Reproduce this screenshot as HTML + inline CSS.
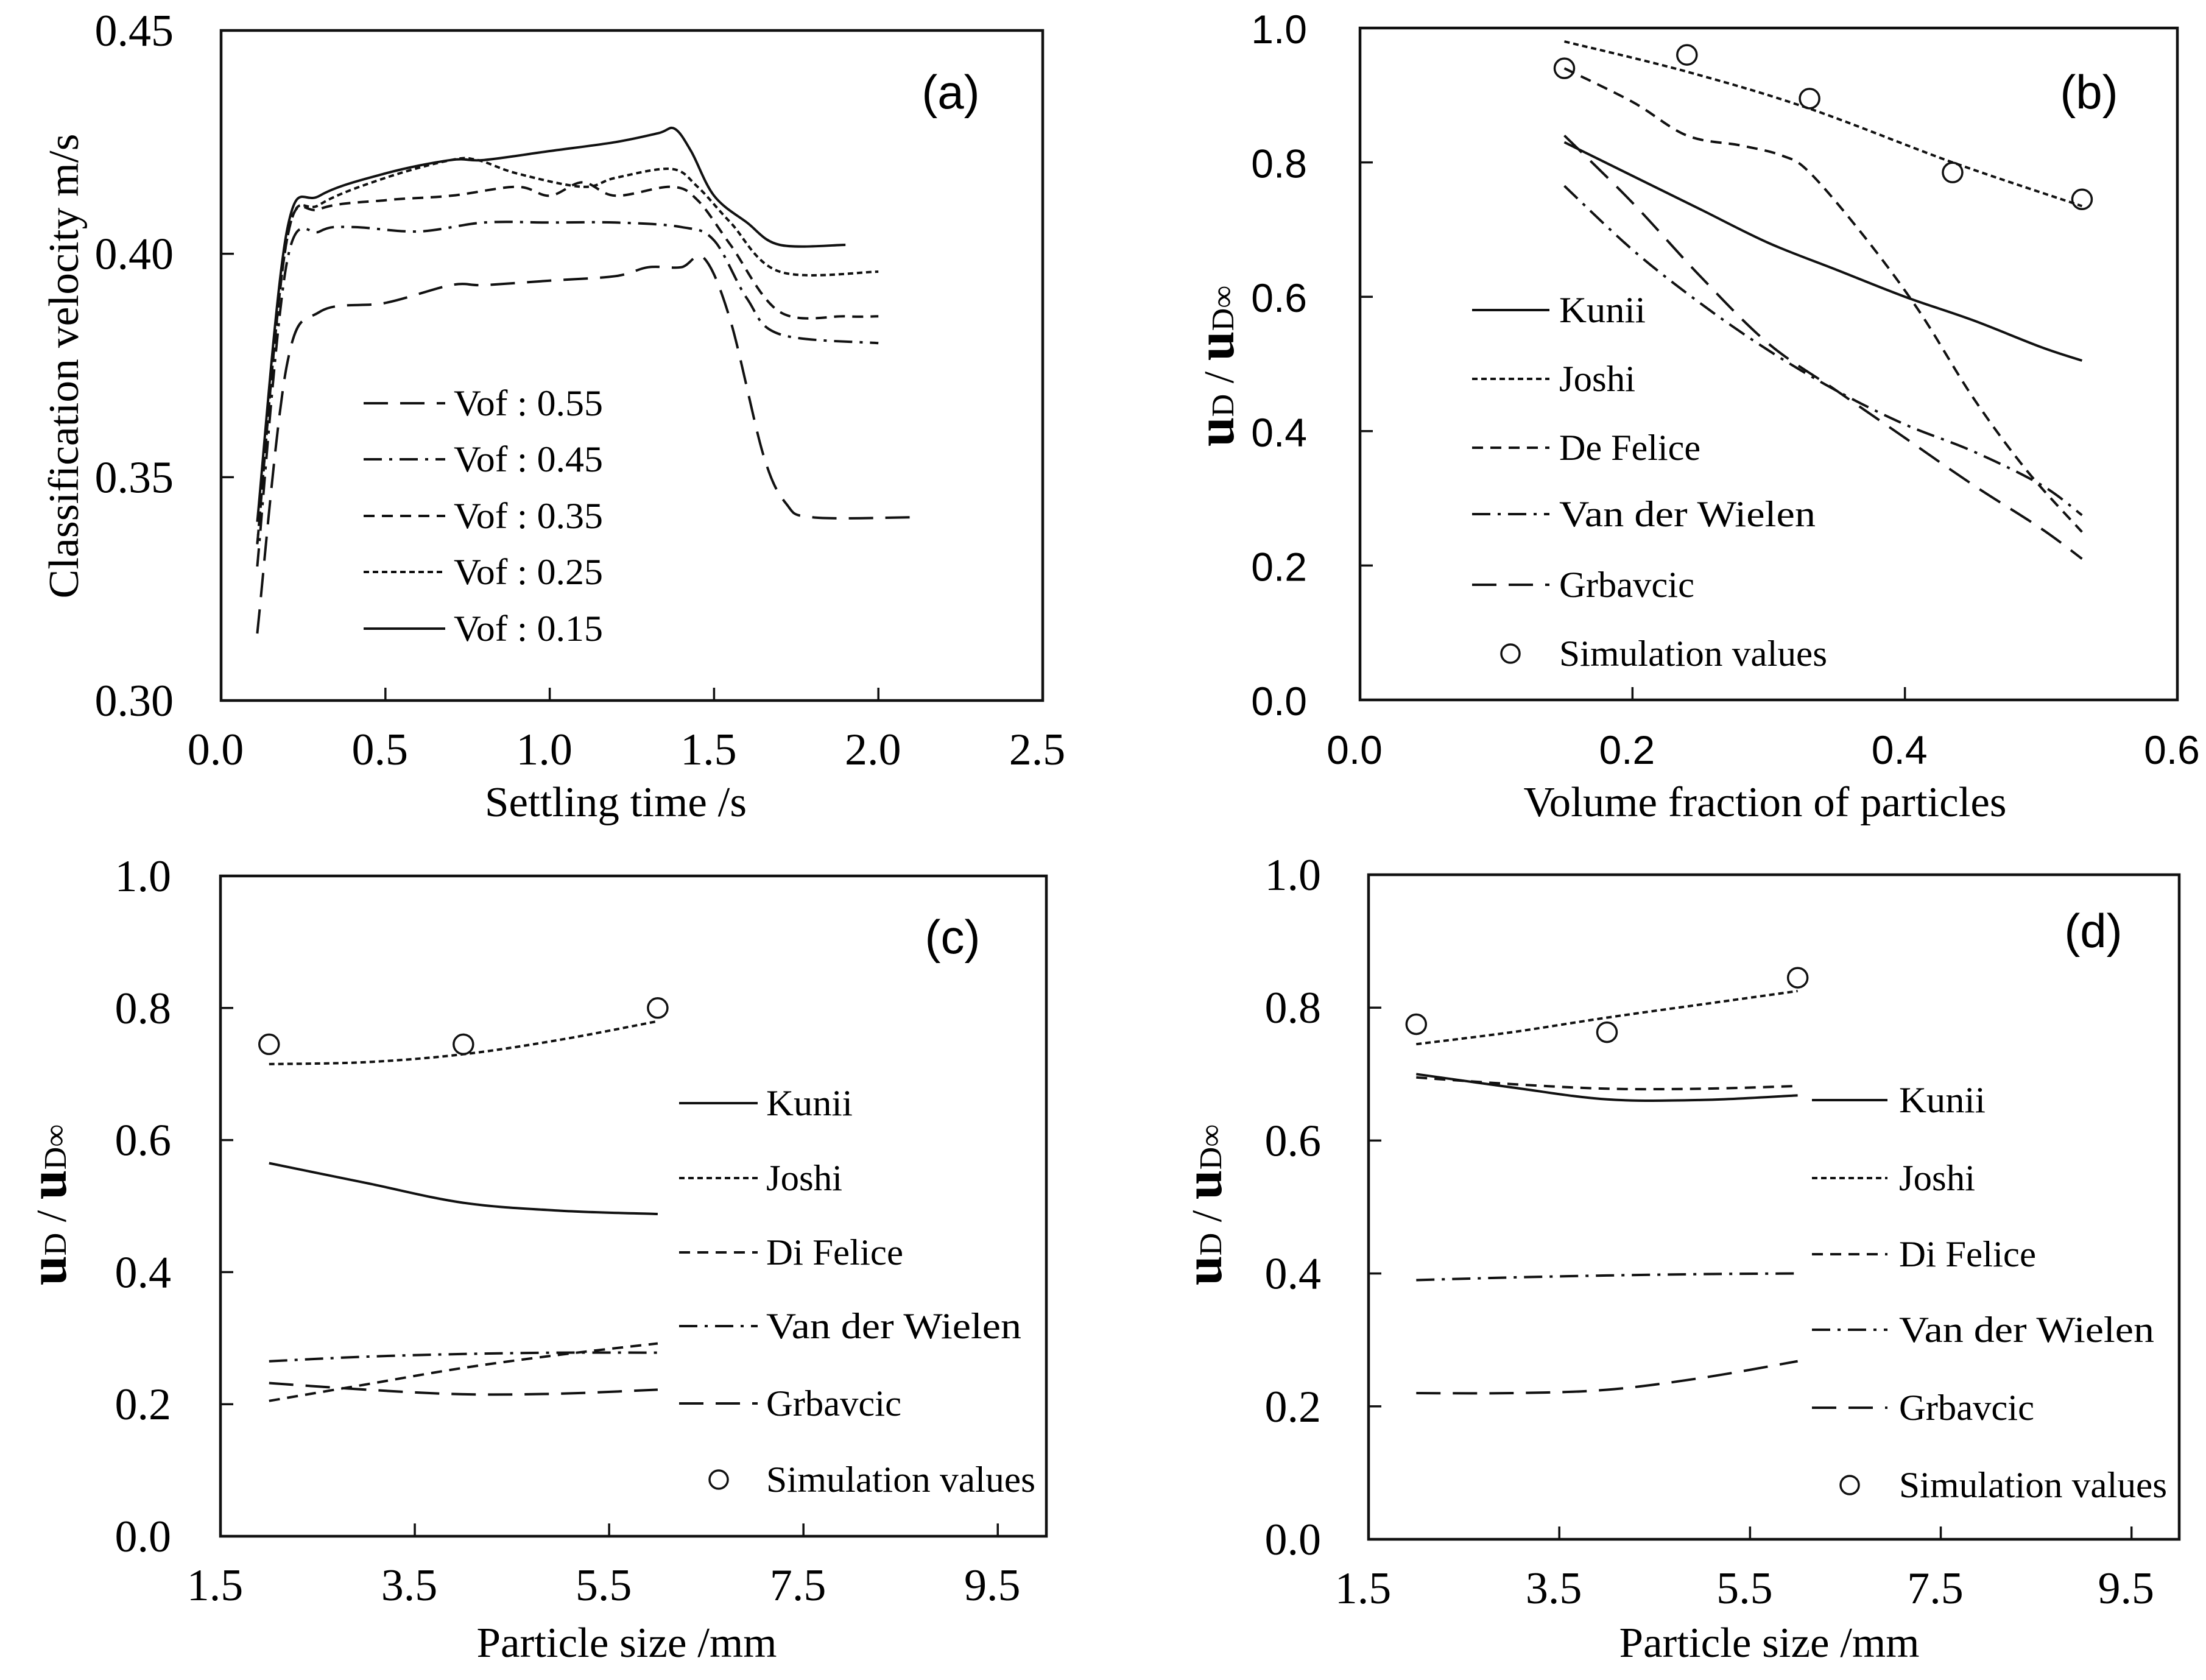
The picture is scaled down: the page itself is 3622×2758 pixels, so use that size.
<!DOCTYPE html>
<html><head><meta charset="utf-8"><style>
html,body{margin:0;padding:0;background:#fff}
svg{display:block}
.serif{font-family:"Liberation Serif",serif}
.sans{font-family:"Liberation Sans",sans-serif}
</style></head><body>
<svg id="fig" xmlns="http://www.w3.org/2000/svg" width="3622" height="2758" viewBox="0 0 3622 2758"></svg>
<script>
// ---------- Panel (a) data ----------
const aT15=[0.11,0.2,0.3,0.5,0.7,0.8,1.0,1.2,1.33,1.38,1.43,1.5,1.6,1.7,1.9];
const aV15=[0.340,0.405,0.413,0.418,0.421,0.421,0.423,0.425,0.427,0.428,0.423,0.413,0.407,0.402,0.402];
const aT25=[0.11,0.2,0.3,0.5,0.7,0.78,0.9,1.1,1.2,1.37,1.45,1.55,1.7,2.0];
const aV25=[0.335,0.403,0.411,0.417,0.421,0.421,0.418,0.415,0.417,0.419,0.415,0.407,0.396,0.396];
const aT35=[0.11,0.2,0.3,0.5,0.7,0.9,1.0,1.1,1.2,1.37,1.45,1.55,1.7,1.9,2.0];
const aV35=[0.335,0.403,0.410,0.412,0.413,0.415,0.413,0.416,0.413,0.415,0.412,0.402,0.387,0.386,0.386];
const aT45=[0.11,0.2,0.3,0.4,0.6,0.8,1.0,1.2,1.4,1.5,1.6,1.7,2.0];
const aV45=[0.330,0.398,0.405,0.406,0.405,0.407,0.407,0.407,0.406,0.403,0.390,0.382,0.380];
const aT55=[0.11,0.2,0.3,0.5,0.7,0.8,1.0,1.2,1.3,1.4,1.47,1.55,1.65,1.72,1.8,2.1];
const aV55=[0.315,0.375,0.387,0.389,0.393,0.393,0.394,0.395,0.397,0.397,0.399,0.385,0.355,0.344,0.341,0.341];
const aXTicks=[0,0.5,1.0,1.5,2.0,2.5];
const aYTicks=[0.30,0.35,0.40,0.45];
// ---------- Panel (b) data ----------
const bX=[0.15,0.2,0.25,0.3,0.35,0.4,0.45,0.5,0.53];
const bKunii=[0.83,0.78,0.73,0.68,0.64,0.60,0.565,0.525,0.505];
const bVdw=[0.765,0.67,0.59,0.52,0.46,0.41,0.37,0.32,0.275];
const bGrb=[0.84,0.74,0.63,0.53,0.46,0.39,0.32,0.255,0.21];
const bJoshiX=[0.15,0.24,0.33,0.435,0.53];
const bJoshi=[0.98,0.935,0.88,0.80,0.735];
const bFelX=[0.15,0.2,0.24,0.28,0.31,0.33,0.37,0.41,0.45,0.49,0.53];
const bFel=[0.94,0.89,0.84,0.825,0.81,0.785,0.69,0.58,0.45,0.34,0.25];
const bSimX=[0.15,0.24,0.33,0.435,0.53];
const bSim=[0.94,0.96,0.895,0.785,0.745];
const bXTicks=[0,0.2,0.4,0.6];
const bYTicks=[0,0.2,0.4,0.6,0.8,1.0];
// ---------- Panel (c) data ----------
const cX=[2,3,4,5,6];
const cSimX=[2,4,6];
const cSim=[0.745,0.745,0.80];
const cJoshi=[0.715,0.718,0.73,0.752,0.78];
const cKunii=[0.565,0.535,0.505,0.493,0.488];
const cFel=[0.205,0.23,0.255,0.275,0.292];
const cVdw=[0.265,0.272,0.276,0.278,0.278];
const cGrb=[0.232,0.222,0.215,0.216,0.222];
// ---------- Panel (d) data ----------
const dX=[2,3,4,5,6];
const dSimX=[2,4,6];
const dSim=[0.775,0.763,0.845];
const dJoshi=[0.745,0.763,0.785,0.805,0.825];
const dKunii=[0.70,0.68,0.662,0.661,0.668];
const dFel=[0.695,0.685,0.678,0.678,0.682];
const dVdw=[0.39,0.394,0.397,0.399,0.40];
const dGrb=[0.22,0.22,0.225,0.243,0.268];
const cdXTicks=[1.5,3.5,5.5,7.5,9.5];
const cdYTicks=[0,0.2,0.4,0.6,0.8,1.0];

const NS="http://www.w3.org/2000/svg";
const svg=document.getElementById('fig');
function mk(tag,attrs,parent){const e=document.createElementNS(NS,tag);for(const k in attrs)e.setAttribute(k,attrs[k]);(parent||svg).appendChild(e);return e;}
const DASH={solid:"",dot:"9,6",dash:"18,12",dashdot:"30,12,5,12",long:"40,20"};

function smoothPath(pts){
  let d="M"+pts[0][0].toFixed(1)+","+pts[0][1].toFixed(1);
  for(let i=0;i<pts.length-1;i++){
    const p0=pts[i-1]||pts[i],p1=pts[i],p2=pts[i+1],p3=pts[i+2]||p2;
    const c1=[p1[0]+(p2[0]-p0[0])/6,p1[1]+(p2[1]-p0[1])/6];
    const c2=[p2[0]-(p3[0]-p1[0])/6,p2[1]-(p3[1]-p1[1])/6];
    d+=" C"+c1[0].toFixed(1)+","+c1[1].toFixed(1)+" "+c2[0].toFixed(1)+","+c2[1].toFixed(1)+" "+p2[0].toFixed(1)+","+p2[1].toFixed(1);
  }
  return d;
}

function panel(o){
  const g=mk('g',{});
  
  
  const sx=v=>o.L+(v-o.x0)/(o.x1-o.x0)*(o.R-o.L);
  const sy=v=>o.B-(v-o.y0)/(o.y1-o.y0)*(o.B-o.T);
  const frame=mk('rect',{x:o.L,y:o.T,width:o.R-o.L,height:o.B-o.T,fill:'none',stroke:'#111','stroke-width':4.5},g);
  
  
  o.xt.forEach(v=>{
    const x=sx(v);
    const t=mk('line',{x1:x,y1:o.B,x2:x,y2:o.B-21,stroke:'#111','stroke-width':3.5},g);
    
    
    const lb=mk('text',{x:x-9,y:o.B+105,'text-anchor':'middle','font-size':o.tf,class:o.tcls},g);
    lb.textContent=v.toFixed(o.xd);
    
    
  });
  o.yt.forEach(v=>{
    const y=sy(v);
    const t=mk('line',{x1:o.L,y1:y,x2:o.L+21,y2:y,stroke:'#111','stroke-width':3.5},g);
    
    
    const lb=mk('text',{x:o.ylx,y:y+25,'text-anchor':'end','font-size':o.tf,class:o.tcls},g);
    lb.textContent=v.toFixed(o.yd);
    
    
  });
  o.series.forEach(s=>{
    const pts=s.x.map((xv,i)=>[sx(xv),sy(s.y[i])]);
    const p=mk('path',{d:smoothPath(pts),fill:'none',stroke:'#111','stroke-width':4,'stroke-dasharray':DASH[s.dash]},g);
    
    
  });
  if(o.sim){
    o.sim.x.forEach((xv,i)=>{
      const c=mk('circle',{cx:sx(xv),cy:sy(o.sim.y[i]),r:16,fill:'none',stroke:'#111','stroke-width':3.5},g);
      
      
    });
  }
  // legend
  o.legend.items.forEach((it,i)=>{
    const y=o.legend.ys[i];
    if(it.dash==='circle'){
      const c=mk('circle',{cx:o.legend.cx,cy:y,r:15,fill:'none',stroke:'#111','stroke-width':3.5},g);
      
      
    } else {
      const l=mk('line',{x1:o.legend.x1,y1:y,x2:o.legend.x2,y2:y,stroke:'#111','stroke-width':4,'stroke-dasharray':DASH[it.dash]},g);
      
      
    }
    const t=mk('text',{x:o.legend.tx,y:y+20,'font-size':60,class:'serif',textLength:it.w,lengthAdjust:'spacingAndGlyphs'},g);
    t.textContent=it.t;
    
    
  });
  const pl=mk('text',{x:o.plx,y:o.ply,'text-anchor':'middle','font-size':78,class:'sans'},g);
  pl.textContent=o.plabel;
  
  
  const xt=mk('text',{x:o.xtx,y:o.xty,'text-anchor':'middle','font-size':70,class:'serif',textLength:o.xtw,lengthAdjust:'spacingAndGlyphs'},g);
  xt.textContent=o.xtitle;
  
  
  if(o.ytitle){
    const yt=mk('text',{x:0,y:0,'text-anchor':'middle','font-size':70,class:'serif',transform:`translate(${o.ytx},${o.yty}) rotate(-90)`,textLength:o.ytw,lengthAdjust:'spacingAndGlyphs'},g);
    yt.textContent=o.ytitle;
    
    
  } else {
    const yt=mk('text',{x:0,y:0,'text-anchor':'middle',class:'serif','font-weight':'bold',transform:`translate(${o.ytx},${o.yty}) rotate(-90)`},g);
    
    
    [['u',88],['D',52],[' / ',70],['u',88],['D∞',52]].forEach(p=>{
      const ts=mk('tspan',{'font-size':p[1],'font-weight':p[1]==88?'bold':'normal'},yt);ts.textContent=p[0];
    });
  }
}

panel({name:'panel-a',L:363,R:1712,T:50,B:1150,x0:0,x1:2.5,y0:0.30,y1:0.45,xt:aXTicks,yt:aYTicks,xd:1,yd:2,tf:74,tcls:'serif',ylx:285,
  series:[{id:'vof-0.15',x:aT15,y:aV15,dash:'solid'},{id:'vof-0.25',x:aT25,y:aV25,dash:'dot'},{id:'vof-0.35',x:aT35,y:aV35,dash:'dash'},{id:'vof-0.45',x:aT45,y:aV45,dash:'dashdot'},{id:'vof-0.55',x:aT55,y:aV55,dash:'long'}],
  legend:{x1:597,x2:731,tx:745,ys:[662,754,847,939,1032],items:[{t:'Vof : 0.55',dash:'long',w:245},{t:'Vof : 0.45',dash:'dashdot',w:245},{t:'Vof : 0.35',dash:'dash',w:245},{t:'Vof : 0.25',dash:'dot',w:245},{t:'Vof : 0.15',dash:'solid',w:245}]},
  plabel:'(a)',plx:1561,ply:178,xtitle:'Settling time /s',xtx:1011,xty:1340,xtw:430,ytitle:'Classification velocity m/s',ytx:128,yty:601,ytw:763});

panel({name:'panel-b',L:2233,R:3575,T:46,B:1149,x0:0,x1:0.6,y0:0,y1:1,xt:bXTicks,yt:bYTicks,xd:1,yd:1,tf:66,tcls:'sans',ylx:2146,
  series:[{id:'kunii',x:bX,y:bKunii,dash:'solid'},{id:'joshi',x:bJoshiX,y:bJoshi,dash:'dot'},{id:'de-felice',x:bFelX,y:bFel,dash:'dash'},{id:'van-der-wielen',x:bX,y:bVdw,dash:'dashdot'},{id:'grbavcic',x:bX,y:bGrb,dash:'long'}],
  sim:{x:bSimX,y:bSim},
  legend:{x1:2417,x2:2544,tx:2560,cx:2480,ys:[509,622,735,844,960,1073],items:[{t:'Kunii',dash:'solid',w:142},{t:'Joshi',dash:'dot',w:125},{t:'De Felice',dash:'dash',w:232},{t:'Van der Wielen',dash:'dashdot',w:421},{t:'Grbavcic',dash:'long',w:222},{t:'Simulation values',dash:'circle',w:440}]},
  plabel:'(b)',plx:3430,ply:178,xtitle:'Volume fraction of particles',xtx:2898,xty:1340,xtw:793,ytx:2025,yty:601});

panel({name:'panel-c',L:362,R:1718,T:1438,B:2522,x0:1.5,x1:10,y0:0,y1:1,xt:cdXTicks,yt:cdYTicks,xd:1,yd:1,tf:74,tcls:'serif',ylx:281,
  series:[{id:'kunii',x:cX,y:cKunii,dash:'solid'},{id:'joshi',x:cX,y:cJoshi,dash:'dot'},{id:'di-felice',x:cX,y:cFel,dash:'dash'},{id:'van-der-wielen',x:cX,y:cVdw,dash:'dashdot'},{id:'grbavcic',x:cX,y:cGrb,dash:'long'}],
  sim:{x:cSimX,y:cSim},
  legend:{x1:1115,x2:1244,tx:1258,cx:1180,ys:[1811,1934,2056,2177,2304,2429],items:[{t:'Kunii',dash:'solid',w:142},{t:'Joshi',dash:'dot',w:125},{t:'Di Felice',dash:'dash',w:225},{t:'Van der Wielen',dash:'dashdot',w:419},{t:'Grbavcic',dash:'long',w:222},{t:'Simulation values',dash:'circle',w:442}]},
  plabel:'(c)',plx:1564,ply:1565,xtitle:'Particle size /mm',xtx:1029,xty:2720,xtw:493,ytx:108,yty:1978});

panel({name:'panel-d',L:2247,R:3578,T:1436,B:2527,x0:1.5,x1:10,y0:0,y1:1,xt:cdXTicks,yt:cdYTicks,xd:1,yd:1,tf:74,tcls:'serif',ylx:2169,
  series:[{id:'kunii',x:dX,y:dKunii,dash:'solid'},{id:'joshi',x:dX,y:dJoshi,dash:'dot'},{id:'di-felice',x:dX,y:dFel,dash:'dash'},{id:'van-der-wielen',x:dX,y:dVdw,dash:'dashdot'},{id:'grbavcic',x:dX,y:dGrb,dash:'long'}],
  sim:{x:dSimX,y:dSim},
  legend:{x1:2975,x2:3099,tx:3118,cx:3037,ys:[1806,1934,2059,2183,2311,2438],items:[{t:'Kunii',dash:'solid',w:142},{t:'Joshi',dash:'dot',w:125},{t:'Di Felice',dash:'dash',w:225},{t:'Van der Wielen',dash:'dashdot',w:419},{t:'Grbavcic',dash:'long',w:222},{t:'Simulation values',dash:'circle',w:440}]},
  plabel:'(d)',plx:3437,ply:1555,xtitle:'Particle size /mm',xtx:2905,xty:2720,xtw:493,ytx:2005,yty:1978});
</script>
</body></html>
